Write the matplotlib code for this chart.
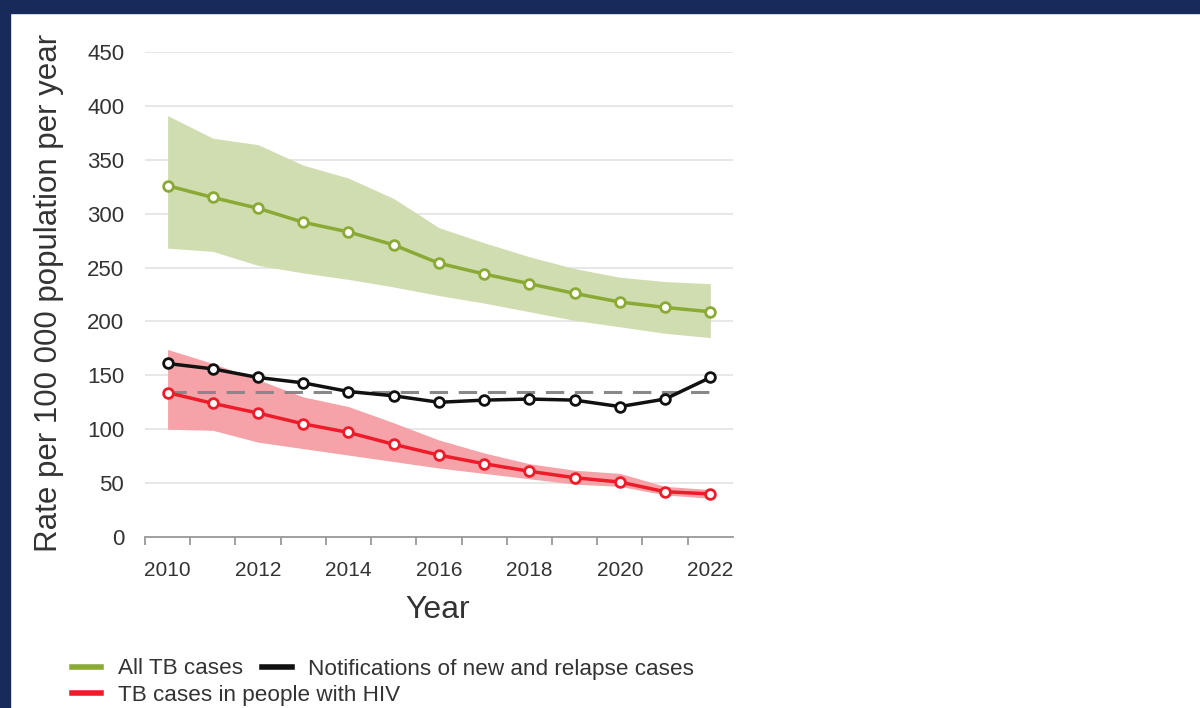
import numpy as np
import matplotlib
matplotlib.use('Agg')
import matplotlib.pyplot as plt
from matplotlib.lines import Line2D
from matplotlib.patches import Rectangle

plt.rcParams['font.family'] = ['Liberation Sans', 'DejaVu Sans']

years = np.arange(2010, 2023)

# All TB cases (incidence) with uncertainty band
all_tb = [326, 315, 305, 292, 283, 271, 254, 244, 235, 226, 218, 213, 209]
all_tb_hi = [391, 370, 364, 345, 333, 314, 287, 273, 260, 249, 241, 237, 235]
all_tb_lo = [268, 265, 252, 245, 239, 232, 224, 217, 209, 201, 195, 189, 185]

# Notifications of new and relapse cases
notif = [161, 156, 148, 143, 135, 131, 125, 127, 128, 127, 121, 128, 148]
target = 135

# TB cases in people with HIV
hiv = [134, 124, 115, 105, 97, 86, 76, 68, 61, 55, 51, 42, 40]
hiv_hi = [174, 161, 146, 130, 121, 106, 90, 78, 68, 62, 59, 47, 44]
hiv_lo = [100, 99, 88, 82, 76, 70, 64, 59, 54, 49, 47, 39, 36]

green = '#8aaa35'
green_band = '#d0ddb0'
red = '#ee1c2a'
red_band = '#f5a3a8'
black = '#111111'
navy = '#172a59'

fig = plt.figure(figsize=(12, 7.08), dpi=100)
ax = fig.add_axes([0.1208, 0.2415, 0.4900, 0.6851])

ax.fill_between(years, all_tb_lo, all_tb_hi, color=green_band, lw=0, zorder=1)
ax.fill_between(years, hiv_lo, hiv_hi, color=red_band, lw=0, zorder=1)

ax.plot([years[0], years[-1]], [target, target], color='#888888', lw=2.2,
        dashes=(6, 3.5), zorder=2)

mk = dict(marker='o', markersize=7, markerfacecolor='white', markeredgewidth=2)
ax.plot(years, all_tb, color=green, lw=2.5, markeredgecolor=green, zorder=3, **mk)
ax.plot(years, notif, color=black, lw=2.5, markeredgecolor=black, zorder=3, **mk)
ax.plot(years, hiv, color=red, lw=2.5, markeredgecolor=red, zorder=3, **mk)

ax.set_xlim(2009.5, 2022.5)
ax.set_ylim(0, 450)
ax.set_yticks(np.arange(0, 451, 50))
ax.set_xticks(np.arange(2010, 2023, 2))
ax.set_xticks(np.arange(2009.5, 2022, 1), minor=True)
ax.grid(axis='y', color='#e3e3e3', lw=1.2)
ax.set_axisbelow(True)
for s in ['left', 'right', 'top']:
    ax.spines[s].set_visible(False)
ax.spines['bottom'].set_color('#999999')
ax.spines['bottom'].set_linewidth(1.3)
ax.tick_params(axis='y', length=0, pad=15, labelsize=16, labelcolor='#333333')
ax.tick_params(axis='x', which='major', length=0, pad=17, labelsize=15,
               labelcolor='#333333')
ax.tick_params(axis='x', which='minor', length=6, width=1.3, color='#999999')

ax.text(-0.163, 0.503, 'Rate per 100 000 population per year', transform=ax.transAxes,
        rotation=90, ha='center', va='center', fontsize=22.5, color='#333333')
ax.text(0.497, -0.151, 'Year', transform=ax.transAxes, ha='center', va='center',
        fontsize=23, color='#333333')

# legend laid out as two rows
h_green = Line2D([], [], color=green, lw=4)
h_black = Line2D([], [], color=black, lw=4)
h_red = Line2D([], [], color=red, lw=4)
leg_kw = dict(frameon=False, fontsize=16.2, handlelength=1.3, handletextpad=0.75,
              borderpad=0, borderaxespad=0)
leg1 = fig.legend([h_green, h_black], ['All TB cases', 'Notifications of new and relapse cases'],
                  loc='center left', bbox_to_anchor=(0.06, 1 - 669 / 708), ncol=2,
                  columnspacing=0.85, **leg_kw)
leg2 = fig.legend([h_red], ['TB cases in people with HIV'],
                  loc='center left', bbox_to_anchor=(0.06, 1 - 695 / 708), **leg_kw)
for leg in (leg1, leg2):
    for t in leg.get_texts():
        t.set_color('#333333')

# dark frame around the screenshot
fig.add_artist(Rectangle((0, 1 - 13 / 708), 1, 13 / 708, transform=fig.transFigure,
                         color=navy, zorder=10))
fig.add_artist(Rectangle((0, 0), 10 / 1200, 1, transform=fig.transFigure,
                         color=navy, zorder=10))

fig.savefig('out.png', dpi=100)
